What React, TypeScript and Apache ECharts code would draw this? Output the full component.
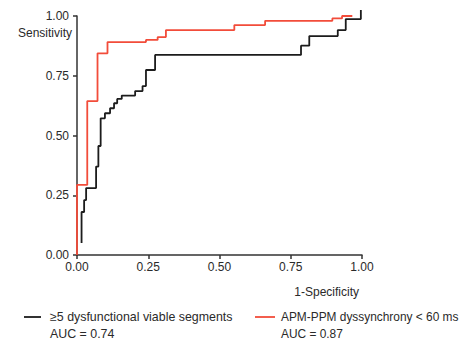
import React, { useEffect, useRef } from "react";
import * as echarts from "echarts";

const xTicks = [0, 0.25, 0.5, 0.75, 1.0];
const yTicks = [0, 0.25, 0.5, 0.75, 1.0];

// ROC curve vertices (1-specificity, sensitivity); drawn as staircase
const viableFpr = [0.016, 0.016, 0.025, 0.032, 0.067, 0.075, 0.083, 0.098, 0.116, 0.13, 0.141, 0.157, 0.204, 0.23, 0.242, 0.274, 0.786, 0.815, 0.915, 0.943, 0.996];
const viableSens = [0.05, 0.18, 0.23, 0.28, 0.37, 0.456, 0.572, 0.593, 0.614, 0.635, 0.653, 0.667, 0.686, 0.707, 0.774, 0.837, 0.876, 0.916, 0.941, 0.987, 1.025];

const dyssFpr = [0, 0, 0.036, 0.072, 0.107, 0.242, 0.283, 0.312, 0.552, 0.66, 0.896, 0.93, 0.966];
const dyssSens = [0, 0.293, 0.644, 0.844, 0.891, 0.9, 0.912, 0.941, 0.962, 0.98, 0.99, 1.0, 1.0];

const seriesNames = ["≥5 dysfunctional viable segments", "APM-PPM dyssynchrony < 60 ms"];
const aucLabels = ["AUC = 0.74", "AUC = 0.87"];
const colors = ["#1c1c1c", "#f24c3a"];

const FONT = "Liberation Sans, Arial, sans-serif";
const TEXT = "#2a2a2a";

export default function App() {
  const ref = useRef<HTMLDivElement>(null);
  useEffect(() => {
    if (!ref.current) return;
    const chart = echarts.init(ref.current, null, { renderer: "svg" });
    const axisLine = { lineStyle: { color: "#333", width: 1.5 } };
    const legendItems: any[] = [];
    const legendX = [24, 255];
    const legendFont = [12.4, 11.9];
    seriesNames.forEach((n, i) => {
      const x0 = legendX[i];
      legendItems.push({
        type: "line",
        shape: { x1: x0, y1: 317, x2: x0 + (i === 0 ? 17 : 20), y2: 317 },
        style: { stroke: colors[i], lineWidth: 1.8 },
      });
      legendItems.push({
        type: "text",
        x: x0 + (i === 0 ? 26 : 26),
        y: 309,
        style: {
          text: n + "\n" + aucLabels[i],
          fill: TEXT,
          font: `${legendFont[i]}px ${FONT}`,
          lineHeight: 16.5,
          verticalAlign: "top",
        },
      });
    });
    chart.setOption({
      animation: false,
      textStyle: { fontFamily: FONT },
      grid: { left: 77, right: 103, top: 16, bottom: 88 },
      xAxis: {
        type: "value",
        min: 0,
        max: 1,
        interval: 0.25,
        name: "1-Specificity",
        nameLocation: "end",
        nameGap: -3,
        nameTextStyle: { color: TEXT, fontSize: 12, align: "right", verticalAlign: "top", padding: [31, 0, 0, 0] },
        axisLine,
        axisTick: { show: true, length: 4, lineStyle: { color: "#333", width: 1.5 } },
        axisLabel: {
          color: TEXT,
          fontSize: 12,
          margin: 6,
          formatter: (v: number) => (xTicks.includes(v) ? v.toFixed(2) : ""),
        },
        splitLine: { show: false },
      },
      yAxis: {
        type: "value",
        min: 0,
        max: 1,
        interval: 0.25,
        name: "Sensitivity",
        nameLocation: "end",
        nameGap: -17,
        nameTextStyle: { color: TEXT, fontSize: 12, align: "right", verticalAlign: "middle", padding: [0, 5, 0, 0] },
        axisLine,
        axisTick: { show: true, length: 4, lineStyle: { color: "#333", width: 1.5 } },
        axisLabel: {
          color: TEXT,
          fontSize: 12,
          margin: 8,
          formatter: (v: number) => (yTicks.includes(v) ? v.toFixed(2) : ""),
        },
        splitLine: { show: false },
      },
      series: [
        {
          name: seriesNames[0],
          type: "line",
          step: "end",
          symbol: "none",
          clip: false,
          z: 3,
          data: viableFpr.map((x, i) => [x, viableSens[i]]),
          lineStyle: { color: colors[0], width: 1.8 },
        },
        {
          name: seriesNames[1],
          type: "line",
          step: "end",
          symbol: "none",
          clip: false,
          z: 2,
          data: dyssFpr.map((x, i) => [x, dyssSens[i]]),
          lineStyle: { color: colors[1], width: 1.8 },
        },
      ],
      graphic: legendItems,
    });
    return () => chart.dispose();
  }, []);
  return <div ref={ref} style={{ width: 465, height: 343, position: "absolute", left: 0, top: 0 }} />;
}
